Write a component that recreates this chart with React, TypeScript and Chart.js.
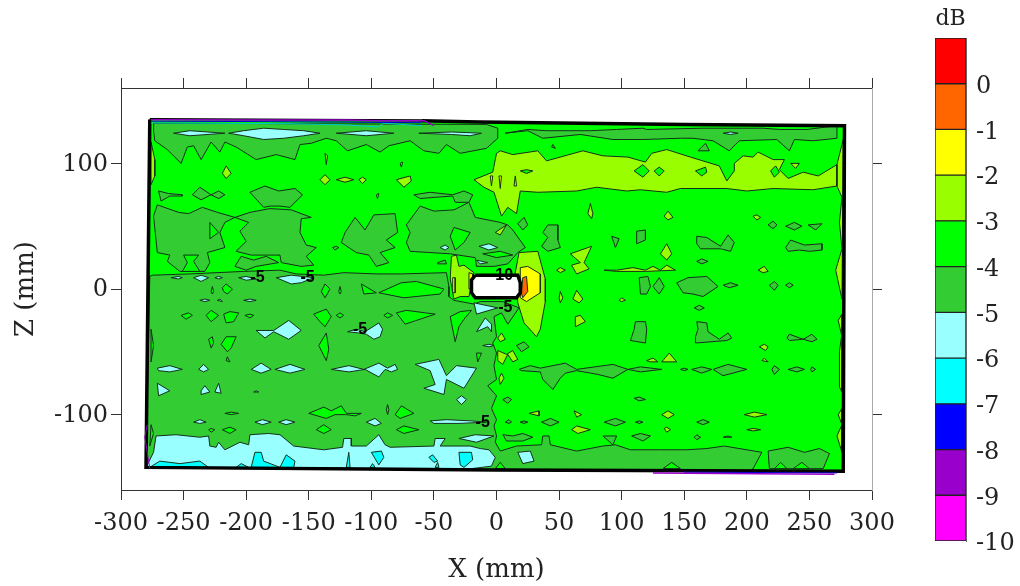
import React, { useEffect, useRef } from "react";
import { Chart, registerables } from "chart.js";

Chart.register(...registerables);

type Ring = number[][];

const FONT = '"DejaVu Serif", serif';

const xTickValues = [-300, -250, -200, -150, -100, -50, 0, 50, 100, 150, 200, 250, 300];
const zTickValues = [-100, 0, 100];
const levels = [-10, -9, -8, -7, -6, -5, -4, -3, -2, -1, 0, 1];
const bandColors = ["#ff00ff", "#9900cc", "#0000ff", "#00ffff", "#99ffff", "#33cc33", "#00ff00", "#99ff00", "#ffff00", "#ff6600", "#ff0000"];

const scanOutline: Ring = [[-277, 135], [-14, 133], [150, 131], [278, 130], [277, -145], [-1, -144], [-280, -142], [-277, 135]];
const thickOutline: Ring = [[-60, 134], [-14, 133], [150, 131], [278, 130], [277, -145], [-1, -144], [-280, -142], [-277, 135]];
const thinTopEdge: Ring = [[-277, 135.5], [-60, 134.5]];

const darkBlocks: Ring[] = [
  [[-274, 132], [-274, 126], [-273, 118], [-263, 111], [-252, 100], [-247, 113], [-242, 114], [-236, 103], [-228, 117], [-221, 109], [-217, 117], [-208, 113], [-192, 103], [-176, 107], [-161, 103], [-157, 115], [-148, 116], [-136, 120], [-128, 118], [-119, 110], [-104, 115], [-93, 109], [-86, 114], [-69, 118], [-58, 110], [-46, 108], [-40, 115], [-29, 108], [-8, 112], [1, 120], [1, 128], [-8, 131]],
  [[7, 124], [25, 126], [37, 120], [67, 123], [93, 119], [117, 119], [147, 120], [157, 120], [173, 118], [186, 110], [194, 118], [224, 119], [234, 110], [238, 119], [253, 118], [272, 120], [272, 130], [248, 127], [226, 127], [213, 128], [165, 128], [120, 127], [117, 128], [96, 127], [75, 126], [40, 126], [25, 127]],
  [[-270, 78], [-262, 76], [-251, 75], [-251, 74], [-261, 74], [-268, 70]],
  [[-243, 75], [-237, 81], [-228, 75], [-236, 71]],
  [[-228, 75], [-222, 78], [-217, 75], [-222, 72]],
  [[-197, 77], [-185, 82], [-174, 78], [-161, 80], [-155, 75], [-165, 65], [-173, 66], [-181, 66], [-186, 65]],
  [[-66, 75], [-53, 77], [-35, 75], [-26, 78], [-19, 75], [-22, 69], [-33, 69], [-35, 74], [-49, 73], [-61, 72]],
  [[-271, 67], [-254, 61], [-246, 60], [-235, 65], [-223, 61], [-209, 57], [-217, 53], [-221, 45], [-217, 33], [-231, 29], [-229, 21], [-233, 14], [-253, 14], [-263, 22], [-261, 27], [-271, 29], [-274, 58]],
  [[-209, 57], [-197, 61], [-181, 64], [-164, 63], [-148, 57], [-156, 56], [-157, 45], [-152, 35], [-144, 33], [-152, 26], [-146, 19], [-156, 18], [-172, 21], [-173, 27], [-196, 27], [-208, 30], [-200, 38], [-205, 46], [-198, 53]],
  [[-209, 18], [-204, 26], [-194, 23], [-184, 26], [-174, 21], [-192, 18], [-200, 15]],
  [[-121, 45], [-113, 57], [-105, 47], [-98, 59], [-81, 60], [-79, 45], [-88, 39], [-81, 33], [-93, 29], [-86, 21], [-96, 18], [-102, 27], [-112, 29], [-124, 37]],
  [[-72, 51], [-61, 66], [-50, 62], [-34, 63], [-22, 69], [-17, 57], [3, 53], [9, 51], [13, 47], [23, 33], [17, 29], [9, 20], [-2, 18], [-16, 18], [-17, 25], [-37, 28], [-69, 30], [-72, 37], [-69, 45]],
  [[-47, 21], [-41, 23], [-40, 20], [-47, 20]],
  [[-131, 33], [-128, 34], [-126, 33], [-129, 31]],
  [[-275, 11], [-245, 12], [-202, 14], [-173, 15], [-160, 12], [-138, 11], [-122, 13], [-96, 12], [-76, 12], [-40, 13], [-38, 2], [-38, -6], [-34, -9], [-18, -12], [-13, -10], [5, -10], [18, -15], [9, -28], [4, -19], [-2, -22], [0, -38], [-3, -43], [0, -51], [-2, -61], [0, -72], [-7, -77], [0, -85], [-4, -95], [0, -104], [-2, -109], [0, -117], [-1, -122], [3, -129], [16, -125], [36, -124], [37, -117], [42, -117], [43, -124], [64, -129], [85, -125], [95, -124], [107, -128], [131, -128], [152, -128], [168, -127], [182, -125], [212, -130], [205, -143], [205, -145], [-1, -144], [-280, -142], [-277, 10]],
  [[217, -129], [233, -126], [246, -130], [258, -127], [266, -131], [261, -143], [218, -143]],
];

const darkIslands: Ring[] = [
  [[161, 110], [167, 116], [170, 110]],
  [[44, 113], [45, 115], [47, 112]],
  [[37, 45], [41, 51], [49, 51], [49, 39], [51, 33], [41, 30], [36, 34], [41, 41]],
  [[17, 52], [22, 57], [25, 51], [21, 47]],
  [[92, 42], [98, 40], [95, 33]],
  [[112, 46], [119, 47], [119, 39], [112, 36]],
  [[160, 42], [168, 41], [179, 34], [185, 43], [190, 37], [187, 30], [179, 32], [163, 32], [160, 36]],
  [[231, 50], [238, 53], [244, 50], [238, 47]],
  [[249, 51], [260, 52], [255, 47]],
  [[231, 33], [235, 39], [246, 35], [260, 36], [260, 31], [250, 30], [242, 31], [233, 30]],
  [[217, 51], [221, 54], [224, 51], [221, 48]],
  [[160, 22], [164, 24], [169, 22], [164, 20]],
  [[114, 9], [121, 10], [123, 2], [120, -4], [115, -4]],
  [[130, 9], [134, 2], [130, -4], [125, 2]],
  [[144, 5], [153, 9], [168, 10], [177, 2], [165, -6], [157, -4], [149, -3]],
  [[181, 3], [187, 5], [193, 3], [186, 1]],
  [[218, 3], [222, 6], [225, 3], [222, -1]],
  [[231, 3], [234, 5], [237, 3], [234, 1]],
  [[18, -64], [27, -61], [35, -63], [55, -59], [64, -64], [93, -60], [105, -64], [115, -62], [132, -64], [115, -66], [105, -64], [93, -71], [81, -68], [64, -65], [55, -67], [51, -71], [45, -80], [37, -72], [35, -66], [20, -65]],
  [[156, -64], [164, -62], [172, -64], [164, -67]],
  [[173, -64], [185, -60], [200, -64], [181, -69]],
  [[147, -64], [150, -63], [153, -64], [150, -65]],
  [[220, -64], [222, -61], [226, -64], [222, -68]],
  [[233, -64], [240, -62], [246, -64], [240, -66]],
  [[251, -64], [252, -62], [255, -64], [252, -66]],
  [[111, -26], [119, -26], [120, -32], [119, -43], [107, -41], [110, -32]],
  [[160, -26], [168, -27], [169, -34], [178, -40], [185, -35], [188, -39], [184, -41], [159, -43], [159, -38], [161, -32]],
  [[232, -39], [234, -36], [245, -40], [252, -36], [256, -40], [252, -42], [245, -40], [234, -41]],
  [[110, -87], [114, -86], [119, -88], [114, -89]],
  [[158, -15], [162, -13], [166, -15], [162, -17]],
  [[5, -88], [9, -86], [12, -88], [9, -91]],
  [[16, -45], [22, -42], [26, -46], [20, -50]],
  [[36, -106], [43, -103], [50, -106], [43, -109]],
  [[86, -106], [95, -103], [103, -106], [95, -109]],
  [[111, -106], [114, -105], [117, -106], [114, -107]],
  [[160, -106], [165, -104], [170, -106], [165, -108]],
  [[7, -106], [10, -104], [12, -106], [10, -107]],
  [[19, -106], [22, -105], [25, -106], [22, -107]],
  [[158, -118], [160, -116], [163, -118], [160, -120]],
  [[181, -118], [185, -117], [188, -118]],
  [[85, -117], [96, -117], [93, -124]],
  [[108, -117], [115, -115], [123, -117], [117, -121]],
  [[5, -116], [13, -117], [21, -115], [29, -118], [21, -121], [8, -121]],
];

const brightOnDark: Ring[] = [
  [[-229, 53], [-222, 45], [-229, 40]],
  [[-250, 27], [-238, 27], [-242, 22], [-237, 14], [-251, 14], [-247, 21]],
  [[-37, 42], [-34, 49], [-21, 45], [-26, 37], [-33, 31]],
  [[-11, 28], [3, 30], [13, 27], [0, 25]],
  [[-219, 1], [-216, 4], [-211, 0], [-215, -4], [-218, -2]],
  [[-140, -2], [-137, 4], [-133, 0], [-137, -7]],
  [[-126, -2], [-125, 2], [-124, -2], [-125, -4]],
  [[-228, -2], [-227, 2], [-226, -2], [-227, -4]],
  [[-94, -3], [-76, 5], [-64, 6], [-42, 0], [-45, -4], [-74, -7]],
  [[-108, 4], [-96, -3], [-106, -4]],
  [[-252, -21], [-246, -19], [-243, -21], [-248, -24]],
  [[-232, -21], [-228, -17], [-222, -21], [-228, -26]],
  [[-218, -20], [-213, -18], [-206, -19], [-210, -26], [-216, -27]],
  [[-201, -21], [-197, -20], [-194, -21], [-197, -23]],
  [[-146, -20], [-136, -16], [-132, -22], [-137, -30], [-141, -26]],
  [[-128, -21], [-125, -19], [-122, -21], [-125, -23]],
  [[-90, -21], [-87, -19], [-83, -21], [-87, -23]],
  [[-80, -19], [-72, -17], [-49, -20], [-73, -28]],
  [[-142, -45], [-136, -35], [-134, -48], [-136, -57]],
  [[-230, -40], [-227, -38], [-226, -43], [-228, -47]],
  [[-220, -44], [-216, -38], [-208, -38], [-212, -47], [-215, -50]],
  [[-216, -57], [-215, -54], [-213, -58]],
  [[-276, -32], [-274, -45], [-276, -58]],
  [[-16, -51], [-12, -51], [-15, -58]],
  [[-150, -99], [-138, -94], [-132, -97], [-124, -93], [-120, -99], [-108, -99], [-113, -101], [-120, -100], [-129, -100], [-136, -103]],
  [[-81, -100], [-76, -93], [-66, -99], [-77, -103]],
  [[-88, -96], [-87, -92], [-86, -96], [-87, -100]],
  [[-217, -99], [-212, -98], [-206, -99], [-212, -100]],
  [[-219, -112], [-213, -110], [-208, -112], [-213, -115]],
  [[-144, -112], [-138, -108], [-132, -112], [-138, -115]],
  [[-80, -112], [-74, -109], [-62, -112], [-74, -115]],
  [[-230, -112], [-228, -111], [-225, -112], [-228, -114]],
  [[-276, -108], [-274, -115], [-277, -125]],
  [[-37, -22], [-29, -18], [-20, -17], [-26, -24], [-30, -30], [-33, -42], [-35, -32]],
  [[222, -143], [227, -138], [232, -143]],
  [[237, -143], [244, -138], [250, -143]],
  [[133, -143], [140, -138], [147, -143]],
  [[-1, -143], [3, -138], [7, -143]],
];

const limeShapes: Ring[] = [
  [[-276, 117], [-273, 103], [-273, 90], [-276, 83]],
  [[-216, 98], [-212, 92], [-216, 88], [-219, 92]],
  [[-141, 87], [-137, 91], [-133, 87], [-137, 83]],
  [[-128, 87], [-121, 89], [-114, 87], [-121, 85]],
  [[-110, 87], [-107, 89], [-104, 87], [-107, 84]],
  [[-80, 87], [-69, 90], [-68, 86], [-74, 81]],
  [[-137, 108], [-135, 106], [-136, 99]],
  [[-77, 100], [-75, 101], [-76, 97]],
  [[-96, 75], [-94, 76], [-95, 72]],
  [[-18, 87], [-3, 93], [0, 108], [3, 110], [13, 107], [33, 110], [40, 102], [69, 110], [85, 106], [105, 105], [119, 101], [124, 108], [136, 111], [155, 105], [178, 98], [184, 86], [190, 94], [190, 100], [197, 106], [205, 105], [209, 109], [221, 103], [230, 103], [226, 95], [233, 88], [245, 93], [257, 90], [272, 99], [272, 82], [253, 79], [221, 80], [200, 78], [184, 80], [147, 80], [136, 77], [115, 79], [104, 78], [80, 81], [64, 78], [33, 77], [19, 78], [16, 60], [9, 65], [4, 58], [-2, 77], [-10, 81]],
  [[-1, 45], [8, 51], [3, 43]],
  [[73, 60], [75, 68], [77, 60], [76, 56]],
  [[134, 58], [137, 62], [141, 57], [137, 55]],
  [[205, 58], [208, 59], [211, 57], [208, 55]],
  [[131, 28], [136, 36], [140, 28], [136, 23]],
  [[59, 28], [76, 34], [70, 21], [74, 16], [64, 12], [60, 19], [67, 21]],
  [[48, 15], [51, 17], [55, 15], [51, 13]],
  [[86, 15], [96, 15], [109, 17], [119, 15], [125, 18], [131, 15], [136, 19], [143, 15], [119, 14], [96, 14]],
  [[209, 15], [214, 18], [217, 14], [213, 13]],
  [[235, 100], [242, 100], [239, 96]],
  [[18, 29], [33, 30], [39, 8], [39, -10], [35, -32], [32, -38], [22, -27], [17, -11], [15, 13]],
  [[-36, 26], [-32, 27], [-30, 18], [-26, 19], [-18, 13], [-22, -6], [-29, -6], [-34, -8], [-37, 8]],
  [[1, -39], [4, -35], [7, -40], [3, -42]],
  [[1, -49], [8, -52], [13, -49], [17, -56], [13, -58], [9, -52], [5, -60], [1, -57]],
  [[2, -71], [4, -67], [6, -71], [3, -76]],
  [[61, -8], [64, -1], [69, -8], [66, -11]],
  [[50, -7], [51, -2], [53, -7], [51, -11]],
  [[63, -22], [67, -21], [71, -26], [63, -30]],
  [[98, -9], [100, -7], [103, -9], [100, -10]],
  [[120, -57], [125, -55], [129, -58], [123, -58]],
  [[132, -58], [138, -51], [144, -58]],
  [[210, -46], [214, -44], [217, -46], [215, -49]],
  [[212, -57], [214, -55], [217, -58]],
  [[26, -99], [34, -97], [34, -101]],
  [[62, -97], [68, -100], [64, -102]],
  [[132, -100], [137, -97], [142, -100], [137, -103]],
  [[198, -100], [206, -98], [216, -100], [206, -102]],
  [[60, -112], [64, -109], [75, -112], [65, -115]],
  [[134, -111], [136, -110], [139, -112], [136, -114]],
  [[200, -112], [205, -111], [211, -112], [205, -113]],
  [[277, 119], [272, 99], [272, 82], [276, 73], [274, 53], [276, 32], [271, 15], [276, -8]],
  [[273, -25], [276, -20], [276, -38]],
  [[274, -50], [276, -35], [276, -82], [274, -78]],
  [[273, -100], [276, -95], [276, -108]],
  [[272, -117], [276, -108], [276, -130]],
];

const holesInLime: Ring[] = [
  [[110, 94], [117, 99], [122, 94], [117, 89]],
  [[126, 94], [130, 97], [134, 94], [130, 90]],
  [[159, 94], [167, 97], [168, 93], [164, 90]],
  [[219, 94], [223, 98], [226, 93], [222, 89]],
  [[19, 94], [24, 95], [29, 94], [24, 92]],
];

const yellowShapes: Ring[] = [
  [[2, 90], [4, 90], [3, 80]],
  [[15, 90], [16, 82], [14, 82]],
  [[-5, 90], [-3, 90], [-4, 82]],
  [[19, 17], [25, 18], [35, 12], [35, -3], [24, -10], [19, -7]],
  [[-35, 9], [-33, 9], [-33, -3], [-35, -3]],
  [[-22, 13], [-19, 12], [-19, 0], [-22, 0]],
];

const orangeShapes: Ring[] = [
  [[21, 9], [24, 10], [25, -2], [21, -7], [20, -4]],
];

const paleShapes: Ring[] = [
  [[-258, 124], [-245, 126], [-217, 124], [-245, 122]],
  [[-214, 124], [-202, 126], [-186, 128], [-170, 127], [-154, 126], [-141, 124], [-154, 122], [-170, 120], [-186, 119], [-202, 122]],
  [[-128, 124], [-104, 126], [-82, 124], [-104, 122]],
  [[-62, 124], [-36, 125], [-12, 124], [-21, 122], [-36, 123]],
  [[181, 124], [187, 125], [193, 124], [187, 123]],
  [[-260, 9], [-254, 10], [-251, 9], [-254, 8]],
  [[-242, 9], [-236, 11], [-230, 9], [-236, 6]],
  [[-225, 9], [-222, 10], [-219, 9], [-222, 8]],
  [[-206, 9], [-200, 10], [-192, 8], [-200, 7]],
  [[-176, 9], [-164, 11], [-146, 9], [-156, 5], [-164, 4]],
  [[-14, 34], [-6, 36], [1, 33], [-6, 31]],
  [[-16, 23], [-7, 21], [-13, 20]],
  [[-45, 33], [-41, 35], [-38, 33], [-41, 31]],
  [[-237, -9], [-233, -8], [-229, -9], [-233, -10]],
  [[-223, -9], [-221, -8], [-219, -10]],
  [[-202, -9], [-197, -8], [-192, -9], [-197, -10]],
  [[-192, -33], [-178, -33], [-166, -25], [-156, -33], [-166, -40], [-178, -34], [-185, -39]],
  [[-119, -34], [-112, -32], [-105, -34], [-94, -27], [-91, -32], [-93, -38], [-98, -40], [-104, -36], [-110, -35]],
  [[-271, -63], [-261, -61], [-251, -64], [-261, -66], [-270, -65]],
  [[-238, -64], [-234, -60], [-230, -64], [-234, -66]],
  [[-196, -64], [-188, -59], [-180, -64], [-188, -67]],
  [[-177, -64], [-165, -60], [-153, -64], [-165, -67]],
  [[-132, -64], [-118, -61], [-106, -64], [-94, -59], [-87, -63], [-81, -60], [-79, -64], [-84, -66], [-89, -64], [-94, -70], [-105, -64], [-118, -66]],
  [[-65, -60], [-46, -56], [-40, -69], [-32, -61], [-16, -63], [-26, -79], [-40, -72], [-42, -84], [-58, -79], [-49, -76], [-53, -65]],
  [[-32, -88], [-28, -85], [-24, -88], [-28, -92]],
  [[-271, -75], [-261, -81], [-270, -85]],
  [[-236, -81], [-233, -77], [-229, -82], [-236, -84]],
  [[-225, -82], [-222, -75], [-220, -83]],
  [[-194, -82], [-192, -81], [-190, -82]],
  [[-242, -106], [-237, -104], [-232, -106], [-237, -107]],
  [[-193, -106], [-187, -104], [-180, -106], [-187, -108]],
  [[-174, -106], [-168, -104], [-161, -106], [-168, -108]],
  [[-104, -106], [-97, -103], [-92, -107], [-97, -109]],
  [[-53, -105], [-40, -104], [-20, -105], [-8, -106], [-30, -107], [-50, -107]],
  [[-11, -45], [-6, -44], [-2, -45], [-6, -46]],
  [[-16, -34], [-9, -23], [-4, -28], [-4, -34], [-7, -30], [-16, -34]],
  [[-18, -11], [-16, -20], [1, -15]],
  [[-30, -119], [-17, -116], [-2, -117], [-16, -122]],
  [[-272, -117], [-256, -116], [-237, -118], [-230, -117], [-229, -125], [-224, -126], [-222, -122], [-217, -128], [-205, -122], [-198, -124], [-197, -116], [-182, -115], [-173, -116], [-162, -125], [-138, -128], [-123, -126], [-122, -119], [-116, -119], [-116, -125], [-104, -125], [-94, -116], [-89, -124], [-85, -126], [-50, -125], [-49, -119], [-41, -119], [-45, -125], [-21, -125], [-13, -127], [-6, -128], [-1, -134], [-4, -141], [-20, -143], [-280, -142], [-274, -130]],
  [[17, -130], [27, -129], [30, -137], [21, -139]],
];

const cyanShapes: Ring[] = [
  [[-277, -142], [-269, -137], [-253, -139], [-237, -137], [-230, -142]],
  [[-208, -142], [-204, -139], [-198, -142]],
  [[-196, -142], [-193, -130], [-188, -130], [-186, -137], [-173, -142], [-168, -132], [-161, -137], [-162, -142]],
  [[-118, -130], [-117, -142], [-120, -142]],
  [[-100, -130], [-92, -129], [-90, -134], [-94, -140]],
  [[-54, -134], [-51, -132], [-47, -137], [-50, -138]],
  [[-30, -130], [-20, -130], [-19, -136], [-26, -142], [-29, -140]],
  [[-47, -138], [-46, -142], [-49, -142]],
  [[-101, -142], [-99, -139], [-97, -142]],
];

const voidShape: Ring = [[-17, 11], [17, 11], [19, 5], [19, -3], [16, -7], [-17, -7], [-20, -3], [-20, 7]];

const purpleEdge: Ring = [[-276, 134.8], [-200, 134.5], [-120, 134.6], [-90, 134], [-58, 134], [-50, 130]];
const blueEdge: Ring = [[-276, 133.6], [-180, 133.2], [-90, 132.6], [-60, 132.4]];
const cyanEdge: Ring = [[-276, 132.2], [-165, 131.6], [-120, 130.6], [-95, 129], [-90, 132], [-60, 130]];
const purpleEdgeLow: Ring = [[125, -146.5], [210, -147], [270, -147.5]];
const blueEdgeLow: Ring = [[150, -145.8], [230, -146.2], [272, -146.4]];
const purpleEdgeLeft: Ring = [[-279, -108], [-281, -118], [-279, -130], [-277, -143]];

const labelTexts = ["-5", "-5", "-5", "-5", "-5", "-10"];
const labelXs = [-191, -151, -109, 7, -11, 4];
const labelZs = [9, 9, -32, -15, -106, 11];

const makeFilled = (ring: Ring, color: string) => ({
  data: [...ring, ring[0]].map(([x, y]) => ({ x, y })),
  showLine: true,
  fill: "shape" as const,
  backgroundColor: color,
  borderColor: "#14301a",
  borderWidth: 1,
  pointRadius: 0,
  tension: 0,
});

const makeLine = (ring: Ring, color: string, width: number) => ({
  data: ring.map(([x, y]) => ({ x, y })),
  showLine: true,
  fill: false,
  borderColor: color,
  borderWidth: width,
  pointRadius: 0,
  tension: 0,
});

const contourLabels = {
  id: "contourLabels",
  afterDatasetsDraw(chart: any) {
    const { ctx, scales } = chart;
    ctx.save();
    ctx.font = 'bold 16px "Liberation Sans", sans-serif';
    ctx.fillStyle = "#000";
    ctx.textAlign = "center";
    ctx.textBaseline = "middle";
    labelTexts.forEach((t, i) => {
      ctx.fillText(t, scales.x.getPixelForValue(labelXs[i]), scales.y.getPixelForValue(labelZs[i]));
    });
    ctx.restore();
  },
};

const unitLabel = {
  id: "unitLabel",
  afterDraw(chart: any) {
    const { ctx, chartArea } = chart;
    ctx.save();
    ctx.font = `22px ${FONT}`;
    ctx.fillStyle = "#222";
    ctx.textAlign = "center";
    ctx.textBaseline = "middle";
    ctx.fillText("dB", (chartArea.left + chartArea.right) / 2, 19);
    ctx.restore();
  },
};

const fixBox = (width: number | null, height: number | null) => (s: any) => {
  if (width !== null) s.width = width;
  if (height !== null) s.height = height;
  s.paddingTop = s.paddingBottom = s.paddingLeft = s.paddingRight = 0;
};

export default function App() {
  const mainRef = useRef<HTMLCanvasElement>(null);
  const barRef = useRef<HTMLCanvasElement>(null);

  useEffect(() => {
    const datasets: any[] = [
      makeFilled(scanOutline, "#00ff00"),
      ...darkBlocks.map((r) => makeFilled(r, "#33cc33")),
      ...darkIslands.map((r) => makeFilled(r, "#33cc33")),
      ...brightOnDark.map((r) => makeFilled(r, "#00ff00")),
      ...limeShapes.map((r) => makeFilled(r, "#99ff00")),
      ...holesInLime.map((r) => makeFilled(r, "#00ff00")),
      ...yellowShapes.map((r) => makeFilled(r, "#ffff00")),
      ...orangeShapes.map((r) => makeFilled(r, "#ff6600")),
      ...paleShapes.map((r) => makeFilled(r, "#99ffff")),
      ...cyanShapes.map((r) => makeFilled(r, "#00ffff")),
      makeLine(thickOutline, "#000", 3.5),
      makeLine(thinTopEdge, "#000", 1.5),
      makeLine(cyanEdge, "#00cccc", 1),
      makeLine(blueEdge, "#0000cc", 1),
      makeLine(purpleEdge, "#9900cc", 1.5),
      makeLine(blueEdgeLow, "#0000cc", 1),
      makeLine(purpleEdgeLow, "#9900cc", 1.5),
      makeLine(purpleEdgeLeft, "#9900cc", 1),
      { ...makeFilled(voidShape, "#ffffff"), borderColor: "#000", borderWidth: 3.5 },
    ];
    datasets.forEach((d, i) => (d.order = -i));

    const axisColor = "#333";
    const tickFont = { family: FONT, size: 24 };
    const main = new Chart(mainRef.current!, {
      type: "scatter",
      data: { datasets },
      plugins: [contourLabels],
      options: {
        animation: false,
        responsive: false,
        layout: { padding: 0 },
        plugins: { legend: { display: false }, tooltip: { enabled: false } },
        scales: {
          x: {
            type: "linear", position: "bottom", min: -300, max: 300,
            afterBuildTicks: (s: any) => { s.ticks = xTickValues.map((value) => ({ value })); },
            afterFit: fixBox(null, 96),
            grid: { drawOnChartArea: false, tickLength: 10, color: axisColor },
            border: { color: axisColor },
            ticks: { font: tickFont, color: "#222", padding: 9, maxRotation: 0, autoSkip: false },
            title: { display: true, text: "X (mm)", font: { family: FONT, size: 26 }, color: "#222", padding: { top: 0, bottom: 0 } },
          },
          y: {
            type: "linear", position: "left", min: -160, max: 160,
            afterBuildTicks: (s: any) => { s.ticks = zTickValues.map((value) => ({ value })); },
            afterFit: fixBox(121, null),
            grid: { drawOnChartArea: false, tickLength: 10, color: axisColor },
            border: { color: axisColor },
            ticks: { font: tickFont, color: "#222", padding: 3, labelOffset: 1, autoSkip: false },
            title: { display: true, text: "Z (mm)", font: { family: FONT, size: 26 }, color: "#222", padding: { top: 11, bottom: 11 } },
          },
          xTop: {
            type: "linear", position: "top", min: -300, max: 300,
            afterBuildTicks: (s: any) => { s.ticks = xTickValues.map((value) => ({ value })); },
            afterFit: fixBox(null, 88),
            grid: { drawOnChartArea: false, tickLength: 10, color: axisColor },
            border: { color: axisColor },
            ticks: { display: false },
          },
          yRight: {
            type: "linear", position: "right", min: -160, max: 160,
            afterBuildTicks: (s: any) => { s.ticks = zTickValues.map((value) => ({ value })); },
            afterFit: fixBox(148, null),
            grid: { drawOnChartArea: false, tickLength: 10, color: axisColor },
            border: { color: "#aaa" },
            ticks: { display: false },
          },
        },
      } as any,
    });

    const bar = new Chart(barRef.current!, {
      type: "bar",
      data: {
        labels: ["dB"],
        datasets: bandColors.map((color, i) => ({
          data: [[levels[i], levels[i + 1]]] as any,
          backgroundColor: color,
          borderColor: "#222",
          borderWidth: 1,
          borderSkipped: false,
          barPercentage: 1,
          categoryPercentage: 1,
        })),
      },
      plugins: [unitLabel],
      options: {
        animation: false,
        responsive: false,
        layout: { padding: { left: 15, top: 38, bottom: 45, right: 0 } },
        plugins: { legend: { display: false }, tooltip: { enabled: false } },
        scales: {
          x: { stacked: true, display: false },
          y: {
            position: "right", min: -10, max: 1,
            afterBuildTicks: (s: any) => { s.ticks = levels.slice(0, -1).map((value) => ({ value })); },
            afterFit: fixBox(54, null),
            grid: { display: false },
            border: { color: "#666" },
            ticks: { font: tickFont, color: "#222", padding: 2, labelOffset: 3, autoSkip: false },
          },
        },
      } as any,
    });

    return () => {
      main.destroy();
      bar.destroy();
    };
  }, []);

  return (
    <div style={{ position: "fixed", left: 0, top: 0, width: 1020, height: 586, background: "#fff", overflow: "hidden" }}>
      <canvas ref={mainRef} width={1020} height={586} style={{ position: "absolute", left: 0, top: 0, display: "block" }} />
      <canvas ref={barRef} width={100} height={586} style={{ position: "absolute", left: 920, top: 0, display: "block" }} />
    </div>
  );
}
